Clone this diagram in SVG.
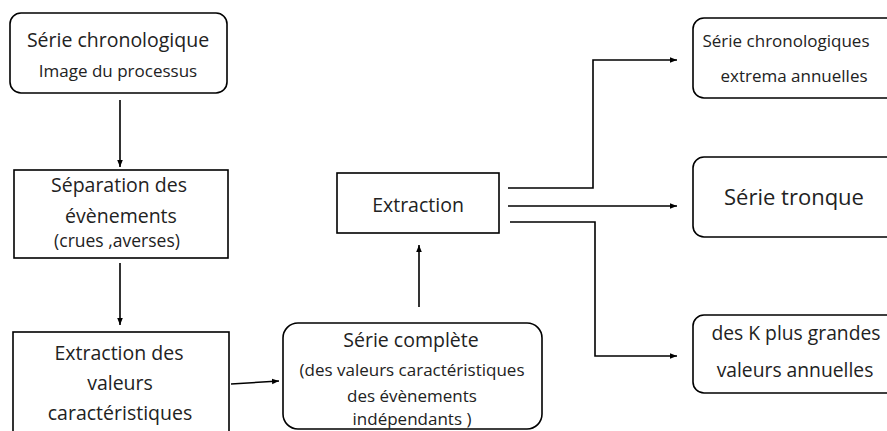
<svg xmlns="http://www.w3.org/2000/svg" width="887" height="431" viewBox="0 0 887 431">
<defs>
<style>
.box{fill:#fff;stroke:#000;stroke-width:1.6}
.t{font-family:"Open Sans","Liberation Sans",sans-serif;fill:#222;text-anchor:middle}
.c{fill:none;stroke:#000;stroke-width:1.6}
</style>
<marker id="ah" viewBox="0 0 10 10" refX="10" refY="5" markerWidth="7" markerHeight="7" orient="auto" markerUnits="userSpaceOnUse">
<path d="M0,1 L10,5 L0,9 z" fill="#000"/>
</marker>
</defs>
<rect width="887" height="431" fill="#fff"/>
<g id="n-serie-chrono">
<rect class="box" x="10" y="13" width="217" height="80" rx="11"/>
<text class="t" x="118" y="47" font-size="19.5">Série chronologique</text>
<text class="t" x="118" y="77" font-size="17">Image du processus</text>
</g>
<g id="n-separation">
<rect class="box" x="14" y="170" width="214" height="88"/>
<text class="t" x="119" y="192" font-size="19.5">Séparation des</text>
<text class="t" x="121" y="223" font-size="19.5">évènements</text>
<text class="t" x="117" y="247" font-size="17.5">(crues ,averses)</text>
</g>
<g id="n-extraction-valeurs">
<rect class="box" x="13" y="332" width="216" height="110"/>
<text class="t" x="119" y="360" font-size="19.5">Extraction des</text>
<text class="t" x="120" y="390" font-size="19.5">valeurs</text>
<text class="t" x="120" y="420" font-size="19.5">caractéristiques</text>
</g>
<g id="n-serie-complete">
<rect class="box" x="283" y="323" width="259" height="106" rx="15"/>
<text class="t" x="411" y="347" font-size="19.5">Série complète</text>
<text class="t" x="412" y="376" font-size="17">(des valeurs caractéristiques</text>
<text class="t" x="412" y="402" font-size="17">des évènements</text>
<text class="t" x="412" y="425" font-size="17">indépendants )</text>
</g>
<g id="n-extraction">
<rect class="box" x="337" y="173" width="162" height="60"/>
<text class="t" x="418" y="212" font-size="19.5">Extraction</text>
</g>
<g id="n-extrema">
<rect class="box" x="693" y="18" width="210" height="80" rx="11"/>
<text class="t" x="786" y="47" font-size="17">Série chronologiques</text>
<text class="t" x="794" y="82" font-size="17">extrema annuelles</text>
</g>
<g id="n-tronque">
<rect class="box" x="693" y="157" width="210" height="80" rx="11"/>
<text class="t" x="794" y="205" font-size="22">Série tronque</text>
</g>
<g id="n-kplus">
<rect class="box" x="693" y="315" width="210" height="78" rx="11"/>
<text class="t" x="796" y="340" font-size="19.3">des K plus grandes</text>
<text class="t" x="795" y="377" font-size="19.3">valeurs annuelles</text>
</g>
<g id="connectors">
<line class="c" x1="120" y1="100" x2="120" y2="167" marker-end="url(#ah)"/>
<line class="c" x1="120" y1="263" x2="120" y2="325" marker-end="url(#ah)"/>
<line class="c" x1="231" y1="384" x2="279" y2="381" marker-end="url(#ah)"/>
<line class="c" x1="419" y1="307" x2="419" y2="245" marker-end="url(#ah)"/>
<polyline class="c" points="508,188 593,188 593,60 677,60" marker-end="url(#ah)"/>
<line class="c" x1="508" y1="206" x2="677" y2="206" marker-end="url(#ah)"/>
<polyline class="c" points="510,222 595,222 595,356 677,356" marker-end="url(#ah)"/>
</g>
</svg>
